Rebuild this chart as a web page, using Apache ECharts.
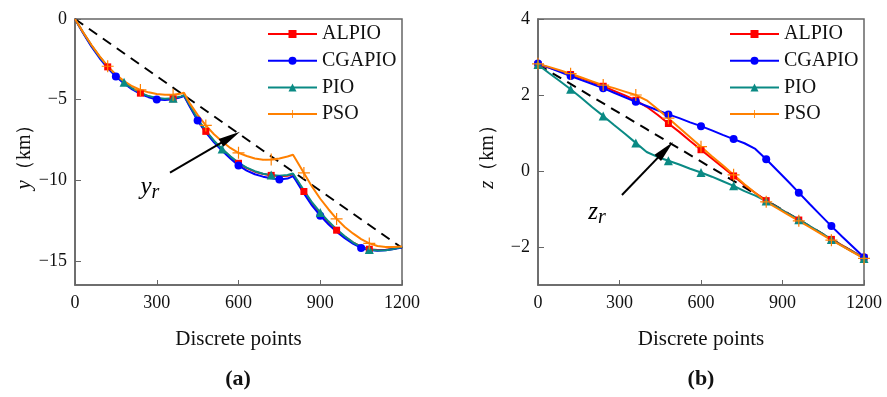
<!DOCTYPE html>
<html><head><meta charset="utf-8">
<script src="https://cdn.jsdelivr.net/npm/echarts@6/dist/echarts.min.js"></script>
<style>html,body{margin:0;padding:0;background:#fff}#c{width:887px;height:397px}</style>
</head><body><div id="c"></div>
<script>
// ---------- data ----------
const names = ['ALPIO', 'CGAPIO', 'PIO', 'PSO'];
const xTicks = [0, 300, 600, 900, 1200];
const yTicksLeft = [0, -5, -10, -15];
const zTicksRight = [-2, 0, 2, 4];

// (a) y (km) vs discrete points
const xLeft = [0,30,60,90,120,150,180,210,240,270,300,330,360,390,400,420,450,480,510,540,570,600,630,660,690,720,750,780,800,810,840,870,900,930,960,990,1020,1050,1080,1110,1140,1170,1200];
const yALPIO = [0,-0.85,-1.65,-2.35,-2.97,-3.5,-3.95,-4.32,-4.6,-4.8,-4.93,-4.98,-4.95,-4.82,-4.74,-5.35,-6.25,-6.97,-7.58,-8.08,-8.55,-8.95,-9.25,-9.47,-9.61,-9.70,-9.75,-9.72,-9.63,-9.9,-10.7,-11.45,-12.07,-12.62,-13.1,-13.5,-13.85,-14.12,-14.28,-14.33,-14.32,-14.25,-14.15];
const yCGAPIO = [0,-0.88,-1.7,-2.42,-3.05,-3.57,-4.0,-4.37,-4.65,-4.85,-4.99,-5.02,-4.98,-4.84,-4.76,-5.4,-6.3,-7.03,-7.65,-8.17,-8.65,-9.08,-9.4,-9.63,-9.78,-9.88,-9.95,-9.9,-9.75,-10.0,-10.82,-11.58,-12.2,-12.74,-13.2,-13.6,-13.93,-14.2,-14.33,-14.38,-14.35,-14.27,-14.17];
const yPIO = [0,-0.84,-1.63,-2.33,-2.95,-3.48,-3.93,-4.3,-4.58,-4.78,-4.9,-4.95,-4.92,-4.8,-4.72,-5.3,-6.2,-6.92,-7.55,-8.06,-8.52,-8.92,-9.22,-9.44,-9.6,-9.68,-9.72,-9.68,-9.58,-9.85,-10.62,-11.38,-12.0,-12.55,-13.05,-13.48,-13.85,-14.13,-14.3,-14.36,-14.34,-14.26,-14.15];
const yPSO = [0,-0.83,-1.6,-2.3,-2.93,-3.45,-3.85,-4.17,-4.4,-4.55,-4.65,-4.7,-4.7,-4.62,-4.58,-5.2,-5.95,-6.6,-7.15,-7.6,-8.0,-8.3,-8.5,-8.65,-8.73,-8.72,-8.65,-8.53,-8.42,-8.7,-9.55,-10.4,-11.15,-11.8,-12.4,-12.9,-13.3,-13.65,-13.92,-14.08,-14.15,-14.14,-14.11];
const xRef = [0, 400, 800, 1200];
const yRef = [0, -4.73, -9.47, -14.2];
const marksLeftALPIO = [120,240,360,480,600,720,840,960,1080];
const marksLeftCGAPIO = [150,300,450,600,750,900,1050];
const marksLeftPIO = [180,360,540,720,900,1080];
const marksLeftPSO = [120,240,360,480,600,720,840,960,1080];

// (b) z (km) vs discrete points
const xRight = [0,40,80,120,160,200,240,280,320,360,400,440,480,520,560,600,640,680,720,760,800,840,880,920,960,1000,1040,1080,1120,1160,1200];
const zALPIO = [2.8,2.72,2.63,2.54,2.44,2.34,2.23,2.11,1.99,1.86,1.69,1.48,1.25,1.03,0.79,0.56,0.33,0.1,-0.13,-0.37,-0.58,-0.78,-0.95,-1.12,-1.29,-1.46,-1.63,-1.8,-1.96,-2.12,-2.28];
const zCGAPIO = [2.83,2.72,2.61,2.5,2.39,2.29,2.18,2.06,1.94,1.82,1.71,1.6,1.49,1.39,1.28,1.18,1.07,0.95,0.84,0.73,0.58,0.31,0.02,-0.27,-0.57,-0.87,-1.16,-1.45,-1.73,-2.0,-2.27];
const zPIO = [2.8,2.58,2.37,2.15,1.92,1.68,1.45,1.21,0.98,0.74,0.5,0.37,0.27,0.17,0.06,-0.04,-0.15,-0.27,-0.39,-0.53,-0.65,-0.79,-0.95,-1.12,-1.28,-1.45,-1.62,-1.8,-1.97,-2.13,-2.3];
const zPSO = [2.82,2.74,2.65,2.56,2.46,2.36,2.26,2.18,2.09,2.0,1.86,1.63,1.39,1.14,0.89,0.64,0.39,0.15,-0.1,-0.35,-0.58,-0.81,-0.98,-1.15,-1.31,-1.48,-1.65,-1.82,-1.98,-2.14,-2.3];
const zRef = [2.8, 1.1, -0.6, -2.3];
const marksRight = [0,120,240,360,480,600,720,840,960,1080,1200];

// annotation anchors (data coordinates)
const arrowLeft = [[348.6, -9.53], [570.6, -7.34]];
const arrowRight = [[309, -0.63], [469, 0.555]];
const labelLeft = [275, -10.47];
const labelRight = [217, -1.1];

// ---------- chart ----------
const F = '"Liberation Serif", "Times New Roman", serif';
const colors = {ALPIO:'#ff0000', CGAPIO:'#0000ff', PIO:'#0a8a84', PSO:'#ff8000'};
const plusPath = 'path://M0,5.4 L12,5.4 L12,6.6 L0,6.6 Z M5.4,0 L6.6,0 L6.6,12 L5.4,12 Z';
const symbols = {ALPIO:['rect',7], CGAPIO:['circle',8], PIO:['triangle',9], PSO:[plusPath,12]};
const headPath = 'path://M4,0 L8,22 L0,22 Z';

function pairs(xs, ys){ return xs.map((x,i)=>[x, ys[i]]); }
function sizeFn(marks, size){ return function(v){ return marks.indexOf(v[0]) >= 0 ? size : 0; }; }
function minus(v){ return String(v).replace('-', '\u2212'); }

function mk(name, xs, ys, marks, idx){
  const c = colors[name];
  return {
    type:'line', name: name, xAxisIndex: idx, yAxisIndex: idx,
    data: pairs(xs, ys), symbol: symbols[name][0], symbolSize: sizeFn(marks, symbols[name][1]),
    showAllSymbol: true, lineStyle:{color:c, width:2}, itemStyle:{color:c},
    emphasis:{disabled:true}, silent:true, animation:false
  };
}
function refSeries(idx, ys, arrow, rot, label, letter){
  return {
    type:'line', name:'ref', xAxisIndex: idx, yAxisIndex: idx,
    data: pairs(xRef, ys), symbol:'none', silent:true, animation:false,
    lineStyle:{color:'#000', width:2, type:[10,7]},
    markLine:{
      silent:true, animation:false, symbol:['none','none'],
      lineStyle:{color:'#000', width:2, type:'solid'}, label:{show:false},
      emphasis:{disabled:true},
      data:[[{coord: arrow[0]}, {coord: arrow[1]}]]
    },
    markPoint:{
      silent:true, animation:false,
      data:[
        {coord: label, symbol:'circle', symbolSize:0,
         label:{show:true, position:'inside', formatter:'{i|' + letter + '}{s|r}',
          rich:{
            i:{fontFamily:F, fontStyle:'italic', fontSize:25, color:'#000'},
            s:{fontFamily:F, fontStyle:'italic', fontSize:20, color:'#000', padding:[10,0,0,0]}
          }}},
        {coord: arrow[1], symbol: headPath, symbolSize:[9,22], symbolRotate: rot,
         itemStyle:{color:'#000'}, label:{show:false}}
      ]
    }
  };
}
function xAx(idx){
  return {
    type:'value', gridIndex: idx, min:0, max:1200, interval:300,
    axisLine:{show:true, onZero:false, lineStyle:{color:'#666', width:1.5}},
    axisTick:{show:true, inside:true, length:5, lineStyle:{color:'#666', width:1}},
    axisLabel:{fontFamily:F, fontSize:18, color:'#111', margin:9, formatter: v => String(v)},
    splitLine:{show:false},
    name:'Discrete points', nameLocation:'middle', nameGap:44,
    nameTextStyle:{fontFamily:F, fontSize:21, color:'#111'}
  };
}
function yAx(idx, min, max, ticks, letter){
  return {
    type:'value', gridIndex: idx, min:min, max:max,
    axisLine:{show:true, onZero:false, lineStyle:{color:'#666', width:1.5}},
    axisTick:{show:true, inside:true, length:6, customValues: ticks, lineStyle:{color:'#666', width:1}},
    axisLabel:{fontFamily:F, fontSize:18, color:'#111', margin:8, customValues: ticks, formatter: minus},
    splitLine:{show:false},
    name:'{i|' + letter + '}（km）', nameLocation:'middle', nameGap:40,
    nameTextStyle:{fontFamily:F, fontSize:20, color:'#111',
      rich:{i:{fontFamily:F, fontStyle:'italic', fontSize:21, color:'#111'}}}
  };
}
function legend(left){
  return {
    data: names, left: left, top: 24, orient:'vertical', padding:0,
    itemWidth:49, itemHeight:10, itemGap:6.7, selectedMode:false,
    textStyle:{fontFamily:F, fontSize:20, color:'#111'}
  };
}

const chart = echarts.init(document.getElementById('c'));
chart.setOption({
  animation:false,
  backgroundColor:'#fff',
  title:[
    {text:'(a)', left:238, top:368, textAlign:'center', padding:0,
     textStyle:{fontFamily:F, fontWeight:'bold', fontSize:22, color:'#111'}},
    {text:'(b)', left:701, top:368, textAlign:'center', padding:0,
     textStyle:{fontFamily:F, fontWeight:'bold', fontSize:22, color:'#111'}}
  ],
  legend:[legend(267), legend(729)],
  grid:[
    {left:75, right:485, top:19, bottom:112, show:true, borderColor:'#666', borderWidth:1.5, backgroundColor:'transparent'},
    {left:538, right:23, top:19, bottom:112, show:true, borderColor:'#666', borderWidth:1.5, backgroundColor:'transparent'}
  ],
  xAxis:[xAx(0), xAx(1)],
  yAxis:[yAx(0, -16.5, 0, yTicksLeft, 'y'), yAx(1, -3, 4, zTicksRight, 'z')],
  series:[
    refSeries(0, yRef, arrowLeft, -59.6, labelLeft, 'y'),
    mk('ALPIO', xLeft, yALPIO, marksLeftALPIO, 0),
    mk('CGAPIO', xLeft, yCGAPIO, marksLeftCGAPIO, 0),
    mk('PIO', xLeft, yPIO, marksLeftPIO, 0),
    mk('PSO', xLeft, yPSO, marksLeftPSO, 0),
    refSeries(1, zRef, arrowRight, -43.9, labelRight, 'z'),
    mk('ALPIO', xRight, zALPIO, marksRight, 1),
    mk('CGAPIO', xRight, zCGAPIO, marksRight, 1),
    mk('PIO', xRight, zPIO, marksRight, 1),
    mk('PSO', xRight, zPSO, marksRight, 1)
  ]
});
</script>
</body></html>
